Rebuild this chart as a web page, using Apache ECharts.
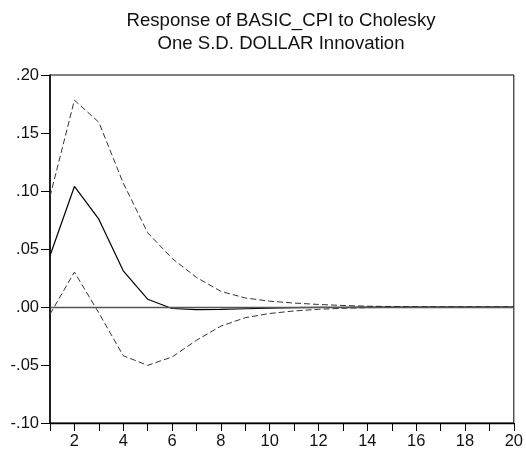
<!DOCTYPE html>
<html><head><meta charset="utf-8">
<script src="https://cdn.jsdelivr.net/npm/echarts@6/dist/echarts.min.js"></script>
<style>html,body{margin:0;padding:0;background:#fff}#c{width:526px;height:452px}</style>
</head><body><div id="c"></div>
<script>
const periods = [1,2,3,4,5,6,7,8,9,10,11,12,13,14,15,16,17,18,19,20];
const response = [0.0442,0.1039,0.0757,0.0312,0.0067,-0.0013,-0.0022,-0.0020,-0.0015,-0.0010,-0.0006,-0.0004,-0.0002,-0.0001,-0.00005,0,0,0,0,0];
const upperBand = [0.0952,0.1783,0.1593,0.1068,0.0641,0.0419,0.0255,0.0135,0.0078,0.0050,0.0034,0.0022,0.0013,0.0007,0.0004,0.0002,0.0001,0.00005,0.00003,0.00002];
const lowerBand = [-0.0062,0.0301,-0.0051,-0.0420,-0.0503,-0.0431,-0.0287,-0.0165,-0.0092,-0.0056,-0.0034,-0.0020,-0.0011,-0.0006,-0.0003,-0.0002,-0.0001,-0.00005,-0.00003,-0.00002];
const yTicks = {min:-0.10, max:0.20, step:0.05};
const titleLines = ['Response of BASIC_CPI to Cholesky','One S.D. DOLLAR Innovation'];

const font = 'Liberation Sans, Arial, sans-serif';
const chart = echarts.init(document.getElementById('c'), null, {renderer:'canvas'});
function fmt(v){
  const s = Math.abs(v).toFixed(2).replace(/^0/,'');
  return (v < -1e-9 ? '-' : '') + s;
}
chart.setOption({
  animation:false,
  title:{text:titleLines.join('\n'), left:276, textAlign:'center', top:4,
    textStyle:{fontFamily:font, fontSize:18.6, fontWeight:'normal', color:'#111', lineHeight:23}},
  grid:{left:50, right:12, top:75, bottom:29, show:true, borderColor:'#000', borderWidth:1, backgroundColor:'transparent'},
  xAxis:{type:'category', data:periods, boundaryGap:false,
    axisLine:{onZero:false, lineStyle:{color:'#000', width:1.3}},
    axisTick:{show:true, interval:0, length:8, inside:false, lineStyle:{color:'#000'}},
    axisLabel:{interval:function(i){return i%2===1;}, fontFamily:font, fontSize:16.5, color:'#111', margin:10},
    splitLine:{show:false}},
  yAxis:{type:'value', min:yTicks.min, max:yTicks.max, interval:yTicks.step,
    axisLine:{show:true, lineStyle:{color:'#000', width:1.5}},
    axisTick:{show:true, length:9, lineStyle:{color:'#000'}},
    axisLabel:{formatter:fmt, fontFamily:font, fontSize:16.5, color:'#111', margin:11},
    splitLine:{show:false}},
  series:[
    {type:'line', data:upperBand, symbol:'none', lineStyle:{color:'#333', width:1, type:[6,3]}, z:2},
    {type:'line', data:lowerBand, symbol:'none', lineStyle:{color:'#333', width:1, type:[6,3]}, z:2},
    {type:'line', data:response, symbol:'none', lineStyle:{color:'#000', width:1.2}, z:3,
      markLine:{silent:true, symbol:['none','none'], label:{show:false},
        lineStyle:{color:'#555', width:1.3, type:'solid'}, data:[{yAxis:0}]}}
  ]
});
</script></body></html>
